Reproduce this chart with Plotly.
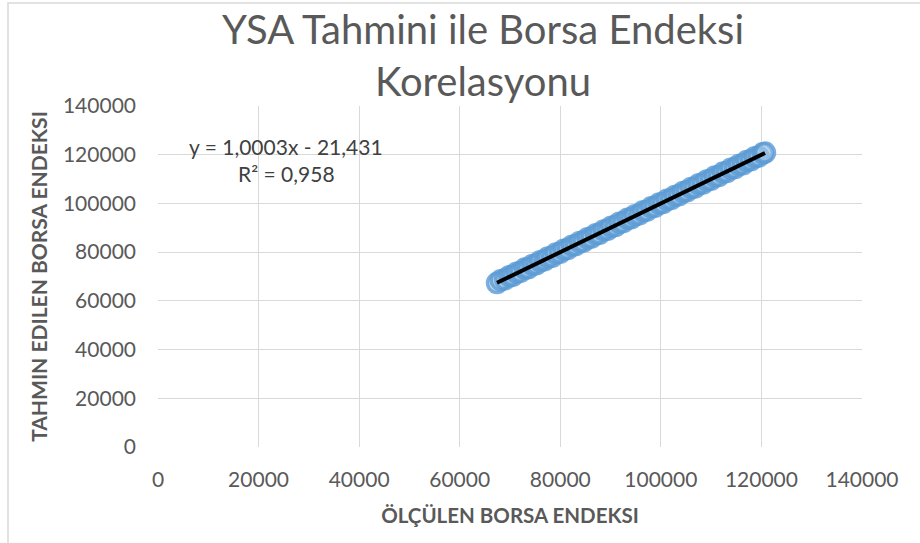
import plotly.graph_objects as go

olculen = [67420, 68150, 69030, 69870, 70540, 71320, 72080, 72950, 73610, 74480,
           75230, 76010, 76870, 77540, 78390, 79120, 79960, 80710, 81480, 82350,
           83090, 83870, 84620, 85440, 86210, 87080, 87790, 88630, 89410, 90150,
           90980, 91760, 92540, 93390, 94120, 94870, 95730, 96480, 97260, 98090,
           98840, 99670, 100420, 101230, 102050, 102810, 103590, 104420, 105180, 106030,
           106790, 107560, 108380, 109150, 109960, 110740, 111520, 112370, 113130, 113910,
           114760, 115520, 116340, 117080, 117910, 118690, 119460, 120280, 120710]
tahmin = [67310, 68420, 68870, 70120, 70310, 71580, 71890, 73240, 73380, 74760,
          75010, 76290, 76640, 77830, 78120, 79410, 79730, 81020, 81250, 82640,
          82870, 84160, 84390, 85730, 85980, 87360, 87550, 88920, 89180, 90440,
          90750, 92050, 92310, 93680, 93890, 95160, 95490, 96770, 97030, 98380,
          98610, 99960, 100190, 101520, 101820, 103090, 103370, 104710, 104950, 106320,
          106560, 107850, 108140, 109440, 109730, 111030, 111290, 112660, 112900, 114200,
          114530, 115810, 116110, 117370, 117680, 118980, 119230, 120570, 120860]

egim = 1.0003
kesisim = -21.431
denklem = "y = 1,0003x - 21,431"
r2_metni = "R² = 0,958"
baslik = "YSA Tahmini ile Borsa Endeksi<br>Korelasyonu"
x_baslik = "ÖLÇÜLEN BORSA ENDEKSI"
y_baslik = "TAHMIN EDILEN BORSA ENDEKSI"
tick_degerleri = [0, 20000, 40000, 60000, 80000, 100000, 120000, 140000]

FONT = "Lato"
GRAY = "#595959"

x_min, x_max = min(olculen), max(olculen)
trend_x = [x_min, x_max]
trend_y = [egim * v + kesisim for v in trend_x]

fig = go.Figure()
fig.add_trace(go.Scatter(
    x=olculen, y=tahmin, mode="markers",
    marker=dict(symbol="circle", size=19, color="rgba(157,195,230,0.45)",
                line=dict(color="rgba(91,155,213,0.8)", width=3.5)),
    showlegend=False, hoverinfo="skip"))
fig.add_trace(go.Scatter(
    x=trend_x, y=trend_y, mode="lines",
    line=dict(color="black", width=4), showlegend=False))

axis_common = dict(
    range=[0, 140000], tickvals=tick_degerleri, ticktext=[str(v) for v in tick_degerleri],
    showgrid=True, gridcolor="#D9D9D9", gridwidth=1.3,
    zeroline=False, showline=False,
    tickfont=dict(family=FONT, size=21, color=GRAY),
    ticks="", fixedrange=True,
)

fig.update_layout(
    width=920, height=543,
    margin=dict(l=158, r=58, t=106, b=96),
    paper_bgcolor="white", plot_bgcolor="white",
    title=dict(text=baslik, x=483 / 920, xanchor="center", xref="container",
               y=1 - 44 / 543, yref="container", yanchor="middle",
               font=dict(family=FONT, size=40, color=GRAY)),
    xaxis=dict(**axis_common, ticklabelstandoff=18,
               title=dict(text=x_baslik, standoff=18,
                          font=dict(family=FONT, size=20.5, color=GRAY, weight="bold"))),
    yaxis=dict(**axis_common, ticklabelstandoff=21,
               title=dict(text=y_baslik, standoff=9,
                          font=dict(family=FONT, size=21, color=GRAY, weight="bold"))),
)

fig.add_annotation(x=(286 - 158) / 704, y=(447 - 146) / 341, xref="paper", yref="paper",
                   text=denklem, showarrow=False, xanchor="center", yanchor="middle",
                   font=dict(family=FONT, size=21, color="#404040"))
fig.add_annotation(x=(286 - 158) / 704, y=(447 - 173) / 341, xref="paper", yref="paper",
                   text=r2_metni, showarrow=False, xanchor="center", yanchor="middle",
                   font=dict(family=FONT, size=21, color="#404040"))

# chart outer border
fig.add_shape(type="rect", xref="paper", yref="paper",
              x0=(8 - 158) / 704, x1=(925 - 158) / 704,
              y0=(447 - 548) / 341, y1=(447 - 3) / 341,
              line=dict(color="#D9D9D9", width=1.5), fillcolor="rgba(0,0,0,0)", layer="below")

fig.write_html("out.html", config={"displayModeBar": False},
               post_script="document.body.style.margin='0px';document.body.style.overflow='hidden';")
